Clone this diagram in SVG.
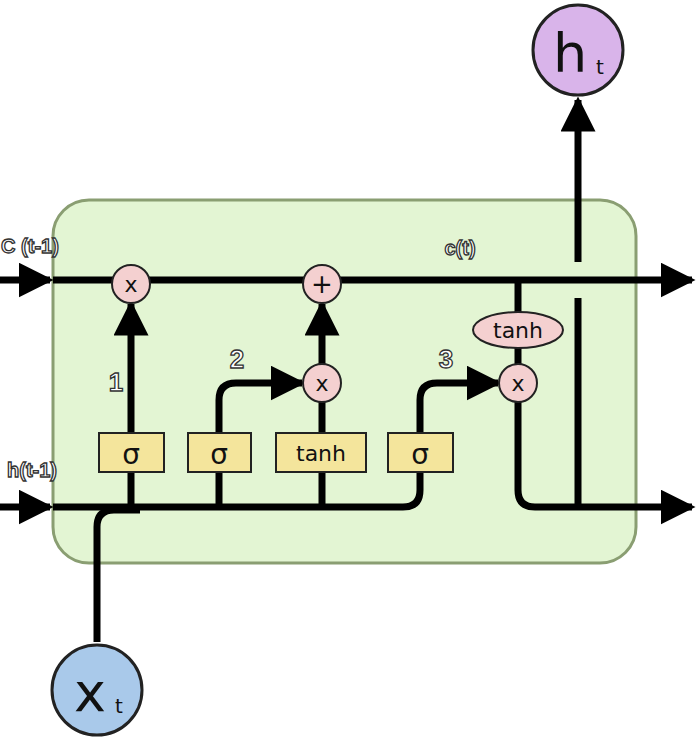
<svg xmlns="http://www.w3.org/2000/svg" width="696" height="741" viewBox="0 0 696 741">
<style>
.ln{fill:none;stroke:#000;stroke-width:7;stroke-linejoin:round}
.op{fill:#f4d0d0;stroke:#222;stroke-width:2}
.gate{fill:#f4e59c;stroke:#222;stroke-width:2}
.t{font-family:"DejaVu Sans",sans-serif;fill:#111;text-anchor:middle}
.lab{font-family:"Liberation Sans",Arial,sans-serif;font-weight:bold;fill:#fff;stroke:#333;stroke-width:1.3;text-anchor:middle}
</style>
<defs>
<marker id="ah" viewBox="0 0 10 10" refX="9" refY="5" markerWidth="5" markerHeight="5" orient="auto" markerUnits="strokeWidth"><path d="M0,0L10,5L0,10z" fill="#000"/></marker>
</defs>
<rect id="cell" x="53" y="200" width="583" height="363" rx="36" fill="#e3f5d3" stroke="#8a9e72" stroke-width="3"/>
<g id="connectors">
<path class="ln" d="M0,280H50" marker-end="url(#ah)"/>
<path class="ln" d="M0,507H50" marker-end="url(#ah)"/>
<path class="ln" d="M53,280H692" marker-end="url(#ah)"/>
<path class="ln" d="M53,507H403Q420,507 420,490V472"/>
<path class="ln" d="M131,507V304" marker-end="url(#ah)"/>
<path class="ln" d="M219,507V400Q219,383 236,383H302" marker-end="url(#ah)"/>
<path class="ln" d="M322,507V402"/>
<path class="ln" d="M322,364V304" marker-end="url(#ah)"/>
<path class="ln" d="M420,433V400Q420,383 437,383H498" marker-end="url(#ah)"/>
<path class="ln" d="M518,280V402"/>
<path class="ln" d="M518,402V490Q518,507 535,507H692" marker-end="url(#ah)"/>
<path class="ln" d="M578,507V298"/>
<path class="ln" d="M578,262V100" marker-end="url(#ah)"/>
<path class="ln" d="M97,642V527Q97,510 114,510H140"/>
</g>
<g id="g1"><rect class="gate" x="99" y="433" width="65" height="39"/><text class="t" x="131" y="464" font-size="28">σ</text></g>
<g id="g2"><rect class="gate" x="188" y="433" width="63" height="39"/><text class="t" x="219" y="464" font-size="28">σ</text></g>
<g id="g3"><rect class="gate" x="276" y="433" width="90" height="39"/><text class="t" x="321" y="461" font-size="22">tanh</text></g>
<g id="g4"><rect class="gate" x="388" y="433" width="65" height="39"/><text class="t" x="420" y="464" font-size="28">σ</text></g>
<g id="m1"><circle class="op" cx="131" cy="284" r="19"/><text class="t" x="131" y="292" font-size="22">x</text></g>
<g id="a1"><circle class="op" cx="322" cy="284" r="19"/><text class="t" x="322" y="293" font-size="26">+</text></g>
<g id="m2"><circle class="op" cx="322" cy="383" r="19"/><text class="t" x="322" y="391" font-size="22">x</text></g>
<g id="m3"><circle class="op" cx="518" cy="383" r="19"/><text class="t" x="518" y="391" font-size="22">x</text></g>
<g id="th"><ellipse class="op" cx="518" cy="330" rx="45" ry="18"/><text class="t" x="518" y="338" font-size="22">tanh</text></g>
<g id="ht"><circle cx="578" cy="50" r="45" fill="#d9b4ea" stroke="#222" stroke-width="3"/><text class="t" x="570" y="72" font-size="54">h</text><text class="t" x="600" y="74" font-size="20">t</text></g>
<g id="xt"><circle cx="97" cy="690" r="45" fill="#a9c9ea" stroke="#222" stroke-width="3"/><text class="t" x="90" y="711" font-size="54">x</text><text class="t" x="119" y="713" font-size="20">t</text></g>
<g id="labels">
<text class="lab" x="30" y="253" font-size="20">C (t-1)</text>
<text class="lab" x="32" y="477" font-size="20">h(t-1)</text>
<text class="lab" x="460" y="255" font-size="20">c(t)</text>
<text class="lab" x="116" y="391" font-size="26">1</text>
<text class="lab" x="237" y="368" font-size="26">2</text>
<text class="lab" x="446" y="368" font-size="26">3</text>
</g>
</svg>
